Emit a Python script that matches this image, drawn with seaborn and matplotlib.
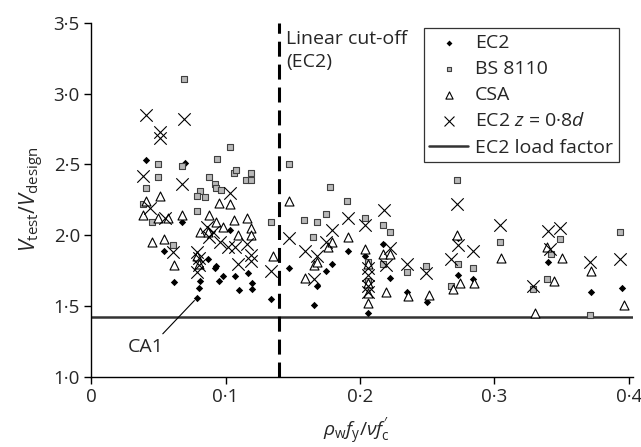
import numpy as np
import pandas as pd
import seaborn as sns
import matplotlib.pyplot as plt
from matplotlib.ticker import FuncFormatter

# x = rho_w f_y / nu f'_c, y = V_test / V_design
ec2_x = [0.041, 0.070, 0.050, 0.068, 0.054, 0.062, 0.103, 0.087, 0.093, 0.092, 0.098,
         0.095, 0.107, 0.117, 0.120, 0.120, 0.110, 0.081, 0.080, 0.079, 0.134,
         0.147, 0.179, 0.175, 0.168, 0.166, 0.191, 0.204, 0.206, 0.217, 0.222,
         0.235, 0.250, 0.273, 0.273, 0.284, 0.340, 0.372, 0.395]
ec2_y = [2.53, 2.51, 2.41, 2.09, 1.89, 1.67, 2.04, 1.83, 1.78, 1.77, 1.71,
         1.68, 1.71, 1.73, 1.66, 1.62, 1.61, 1.68, 1.63, 1.56, 1.55,
         1.77, 1.80, 1.75, 1.64, 1.51, 1.89, 1.85, 1.45, 1.94, 1.70,
         1.60, 1.53, 1.98, 1.72, 1.69, 1.81, 1.60, 1.63]

bs_x = [0.069, 0.103, 0.094, 0.050, 0.068, 0.106, 0.108, 0.119, 0.115, 0.119, 0.088,
        0.050, 0.041, 0.092, 0.093, 0.097, 0.081, 0.079, 0.085, 0.039, 0.079, 0.045,
        0.061, 0.134, 0.147, 0.178, 0.190, 0.158, 0.168, 0.175, 0.165, 0.204, 0.206,
        0.206, 0.217, 0.222, 0.217, 0.235, 0.249, 0.272, 0.273, 0.268, 0.284, 0.304,
        0.349, 0.342, 0.339, 0.329, 0.371, 0.393]
bs_y = [3.10, 2.62, 2.54, 2.50, 2.49, 2.44, 2.46, 2.44, 2.39, 2.39, 2.41,
        2.41, 2.33, 2.36, 2.33, 2.32, 2.31, 2.28, 2.27, 2.22, 2.17, 2.09,
        1.93, 2.09, 2.50, 2.34, 2.24, 2.11, 2.09, 2.15, 1.99, 2.12, 1.81,
        1.68, 2.07, 2.02, 1.80, 1.74, 1.78, 2.39, 1.80, 1.64, 1.77, 1.95,
        1.97, 1.87, 1.69, 1.62, 1.44, 2.02]

csa_x = [0.051, 0.041, 0.039, 0.050, 0.057, 0.068, 0.045, 0.054, 0.062,
         0.095, 0.103, 0.088, 0.093, 0.098, 0.106, 0.116, 0.119, 0.109, 0.119, 0.081,
         0.087, 0.079, 0.080, 0.135, 0.147, 0.176, 0.179, 0.166, 0.168, 0.159, 0.191,
         0.204, 0.206, 0.206, 0.206, 0.206, 0.217, 0.222, 0.219, 0.236, 0.251, 0.272,
         0.274, 0.269, 0.285, 0.305, 0.339, 0.350, 0.344, 0.330, 0.372, 0.396]
csa_y = [2.28, 2.24, 2.14, 2.12, 2.12, 2.14, 1.95, 1.97, 1.79,
         2.23, 2.22, 2.14, 2.09, 2.06, 2.11, 2.12, 2.05, 2.00, 2.00, 2.02,
         2.02, 1.85, 1.80, 1.85, 2.24, 1.92, 1.95, 1.79, 1.81, 1.70, 1.99,
         1.90, 1.80, 1.66, 1.59, 1.52, 1.87, 1.87, 1.60, 1.57, 1.58, 2.00,
         1.66, 1.62, 1.66, 1.84, 1.92, 1.84, 1.68, 1.45, 1.75, 1.51]

z08_x = [0.041, 0.069, 0.051, 0.051, 0.039, 0.068, 0.103, 0.044, 0.055, 0.061,
         0.086, 0.088, 0.091, 0.096, 0.102, 0.107, 0.109, 0.116, 0.119, 0.119, 0.079,
         0.080, 0.080, 0.079, 0.134, 0.147, 0.159, 0.168, 0.179, 0.175, 0.166, 0.191,
         0.204, 0.206, 0.206, 0.206, 0.206, 0.218, 0.222, 0.219, 0.235, 0.249, 0.272,
         0.273, 0.268, 0.284, 0.304, 0.340, 0.349, 0.341, 0.329, 0.371, 0.393]
z08_y = [2.85, 2.82, 2.73, 2.69, 2.42, 2.36, 2.30, 2.19, 2.12, 1.88,
         2.06, 1.99, 2.02, 1.95, 1.92, 1.92, 1.80, 1.94, 1.86, 1.82, 1.88,
         1.84, 1.79, 1.74, 1.75, 1.98, 1.89, 1.85, 2.04, 1.95, 1.69, 2.12,
         2.07, 1.77, 1.72, 1.64, 1.60, 2.18, 1.91, 1.79, 1.80, 1.73, 2.22,
         1.93, 1.83, 1.89, 2.07, 2.03, 2.05, 1.90, 1.64, 1.81, 1.83]

load_factor = 1.42
cutoff = 0.14
ca1 = (0.079, 1.56)

sns.set_style("white")
plt.rcParams['font.family'] = ['Open Sans', 'DejaVu Sans']
plt.rcParams['mathtext.fontset'] = 'custom'
plt.rcParams['mathtext.rm'] = 'Open Sans'
plt.rcParams['mathtext.it'] = 'Open Sans:italic'
plt.rcParams['mathtext.bf'] = 'Open Sans:bold'

fig = plt.figure(figsize=(6.41, 4.47), dpi=100)
ax = fig.add_axes([0.142, 0.157, 0.8455, 0.792])

sns.scatterplot(x=ec2_x, y=ec2_y, marker='D', s=14, color='black',
                linewidth=0, ax=ax, label='EC2', zorder=3)
sns.scatterplot(x=bs_x, y=bs_y, marker='s', s=18, color='#b8b8b8',
                edgecolor='#404040', linewidth=0.8, ax=ax, label='BS 8110', zorder=3)
sns.scatterplot(x=csa_x, y=csa_y, marker='^', s=42, color='white',
                edgecolor='black', linewidth=0.8, ax=ax, label='CSA', zorder=3)
sns.scatterplot(x=z08_x, y=z08_y, marker='x', s=80, color='black',
                linewidth=0.8, ax=ax, label='EC2 $z$ = 0·8$d$', zorder=3)
ax.axhline(load_factor, color='#333333', lw=1.8, label='EC2 load factor', zorder=2)
ax.axvline(cutoff, color='black', lw=2.2, dashes=(4.9, 2.6), zorder=2)

ax.text(cutoff + 0.005, 3.45, 'Linear cut-off\n(EC2)', ha='left', va='top',
        fontsize=14, linespacing=1.4)
ax.annotate('CA1', xy=ca1, xytext=(0.041, 1.21), ha='center', va='center',
            fontsize=14,
            arrowprops=dict(arrowstyle='-', lw=0.8, color='black',
                            relpos=(0.85, 1.0), shrinkA=1, shrinkB=3))

ax.set_xlim(0, 0.403)
ax.set_ylim(1.0, 3.5)
ax.set_xticks([0, 0.1, 0.2, 0.3, 0.4])
ax.set_yticks([1.0, 1.5, 2.0, 2.5, 3.0, 3.5])
ax.xaxis.set_major_formatter(FuncFormatter(lambda v, p: '0' if v == 0 else f'{v:.1f}'.replace('.', '·')))
ax.yaxis.set_major_formatter(FuncFormatter(lambda v, p: f'{v:.1f}'.replace('.', '·')))
ax.tick_params(axis='both', direction='out', length=5, width=1, labelsize=13.5,
               color='black', left=True, bottom=True, pad=3)

for side in ['top', 'right']:
    ax.spines[side].set_visible(False)
for side in ['left', 'bottom']:
    ax.spines[side].set_color('black')
    ax.spines[side].set_linewidth(1)

ax.set_ylabel(r'$V_{\mathrm{test}}/V_{\mathrm{design}}$', fontsize=15.5)
ax.yaxis.set_label_coords(-0.083, 0.5)
ax.set_xlabel(r'$\rho_{\mathrm{w}}f_{\mathrm{y}}/\nu f^{\prime}_{\mathrm{c}}$', fontsize=14)
ax.xaxis.set_label_coords(0.489, -0.112)

leg = ax.legend(loc='upper right', bbox_to_anchor=(0.974, 0.985), fontsize=14,
                frameon=True, fancybox=False, framealpha=1, edgecolor='#333333',
                borderpad=0.3, labelspacing=0.42, handlelength=2.0,
                handletextpad=0.35, borderaxespad=0, markerscale=0.8)
leg.get_frame().set_linewidth(0.9)

fig.savefig('out.png', dpi=100)
